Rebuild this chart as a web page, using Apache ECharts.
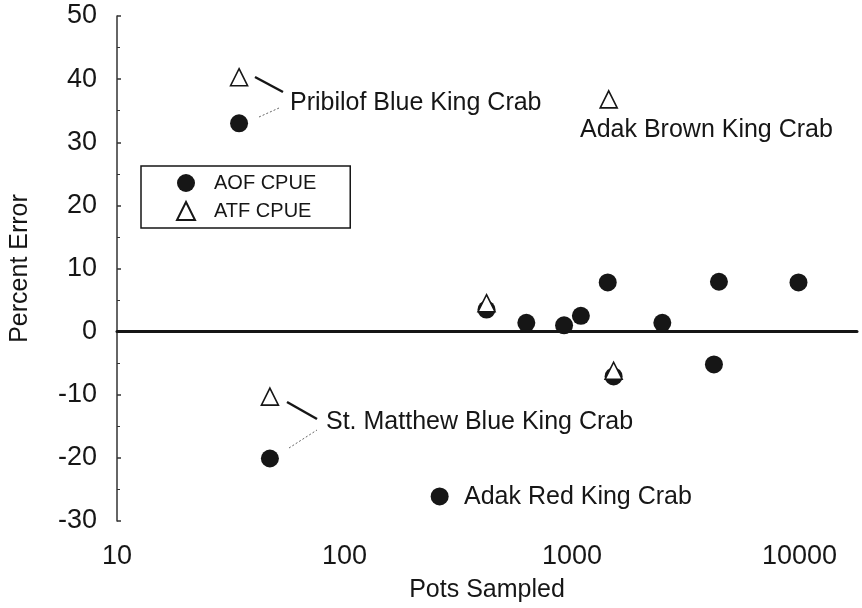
<!DOCTYPE html>
<html lang="en">
<head>
<meta charset="UTF-8">
<title>Percent Error vs Pots Sampled</title>
<script src="https://cdn.jsdelivr.net/npm/echarts@6/dist/echarts.min.js"></script>
<style>
    html, body { margin: 0; padding: 0; background: #fff; }
    #chart { width: 862px; height: 608px; }
</style>
</head>
<body>
<div id="chart"></div>
<script>
// AOF CPUE (filled circles): pots sampled / percent error
var aofPots  = [34.4, 47, 262, 421, 630, 923, 1094, 1436, 1524, 2495, 4207, 4426, 9900];
var aofError = [33.0, -20.1, -26.1, 3.5, 1.4, 1.0, 2.5, 7.8, -7.1, 1.4, -5.2, 7.9, 7.8];
// ATF CPUE (open triangles)
var atfPots  = [34.4, 47, 421, 1450, 1524];
var atfError = [40.3, -10.3, 4.5, 36.8, -6.2];
var seriesNames = ['AOF CPUE', 'ATF CPUE'];
var xTickValues = [10, 100, 1000, 10000];

function pairs(xs, ys) {
    return xs.map(function (x, i) { return [x, ys[i]]; });
}

var font = '"Liberation Sans", Arial, sans-serif';
var ink = '#161616';

// callout labels (text + leader lines), pixel layout
var notes = [
    {text: 'Pribilof Blue King Crab', x: 290, y: 103},
    {text: 'St. Matthew Blue King Crab', x: 326, y: 422},
    {text: 'Adak Red King Crab', x: 464, y: 497},
    {text: 'Adak Brown King Crab', x: 580, y: 130}
];
var solidLeaders = [[255, 77, 283, 92], [287, 402, 317, 419]];
var dashLeaders = [[259, 117, 279, 108], [289, 448, 317, 430]];

var graphics = [];
notes.forEach(function (n) {
    graphics.push({
        type: 'text', x: n.x, y: n.y, silent: true,
        style: {text: n.text, fill: ink, fontSize: 25, fontFamily: font, verticalAlign: 'middle'}
    });
});
solidLeaders.forEach(function (l) {
    graphics.push({type: 'line', silent: true, shape: {x1: l[0], y1: l[1], x2: l[2], y2: l[3]},
        style: {stroke: ink, lineWidth: 2.5}});
});
dashLeaders.forEach(function (l) {
    graphics.push({type: 'line', silent: true, shape: {x1: l[0], y1: l[1], x2: l[2], y2: l[3]},
        style: {stroke: '#666', lineWidth: 1, lineDash: [2, 2]}});
});

var myChart = echarts.init(document.getElementById('chart'), null, {renderer: 'canvas'});
var option = {
    backgroundColor: '#fff',
    animation: false,
    textStyle: {fontFamily: font, color: ink},
    grid: {left: 112, right: 5, top: 16, bottom: 87, containLabel: false},
    legend: {
        orient: 'vertical',
        left: 141, top: 166,
        padding: [7, 34, 7, 35],
        itemGap: 8,
        itemWidth: 18, itemHeight: 18,
        borderColor: ink, borderWidth: 1.5,
        data: [{name: seriesNames[0], icon: 'circle'}, {name: seriesNames[1], icon: 'triangle'}],
        textStyle: {fontSize: 20, color: ink, fontFamily: font, padding: [0, 0, 0, 14]}
    },
    xAxis: {
        type: 'log', logBase: 10,
        min: 10, max: 17900,
        name: 'Pots Sampled', nameLocation: 'middle', nameGap: 57,
        nameTextStyle: {fontSize: 25, color: ink, fontFamily: font},
        axisLine: {show: true, lineStyle: {color: ink, width: 3}},
        axisTick: {show: false},
        minorTick: {show: false},
        splitLine: {show: false},
        axisLabel: {
            fontSize: 27, color: ink, margin: 22, showMaxLabel: false,
            formatter: function (v) {
                return xTickValues.indexOf(Math.round(v)) >= 0 ? String(Math.round(v)) : '';
            }
        }
    },
    yAxis: {
        type: 'value', min: -30, max: 50, interval: 10,
        name: 'Percent Error', nameLocation: 'middle', nameGap: 84,
        nameTextStyle: {fontSize: 25, color: ink, fontFamily: font},
        axisLine: {show: true, lineStyle: {color: '#333', width: 1.5}},
        axisTick: {show: true, inside: true, length: 4, lineStyle: {color: '#333', width: 1.5}},
        minorTick: {show: true, splitNumber: 2, length: 3, lineStyle: {color: '#333'}},
        splitLine: {show: false},
        axisLabel: {fontSize: 27, color: ink, margin: 20}
    },
    graphic: graphics,
    series: [
        {
            name: seriesNames[0], type: 'scatter',
            symbol: 'circle', symbolSize: 18,
            itemStyle: {color: ink, opacity: 1},
            data: pairs(aofPots, aofError),
            markLine: {
                silent: true, symbol: ['none', 'none'],
                label: {show: false},
                lineStyle: {color: ink, width: 2, type: 'solid'},
                data: [{yAxis: 0}]
            }
        },
        {
            name: seriesNames[1], type: 'scatter',
            symbol: 'triangle', symbolSize: 17,
            itemStyle: {color: '#fff', borderColor: ink, borderWidth: 1.6, opacity: 1},
            data: pairs(atfPots, atfError)
        }
    ]
};
myChart.setOption(option);
</script>
</body>
</html>
